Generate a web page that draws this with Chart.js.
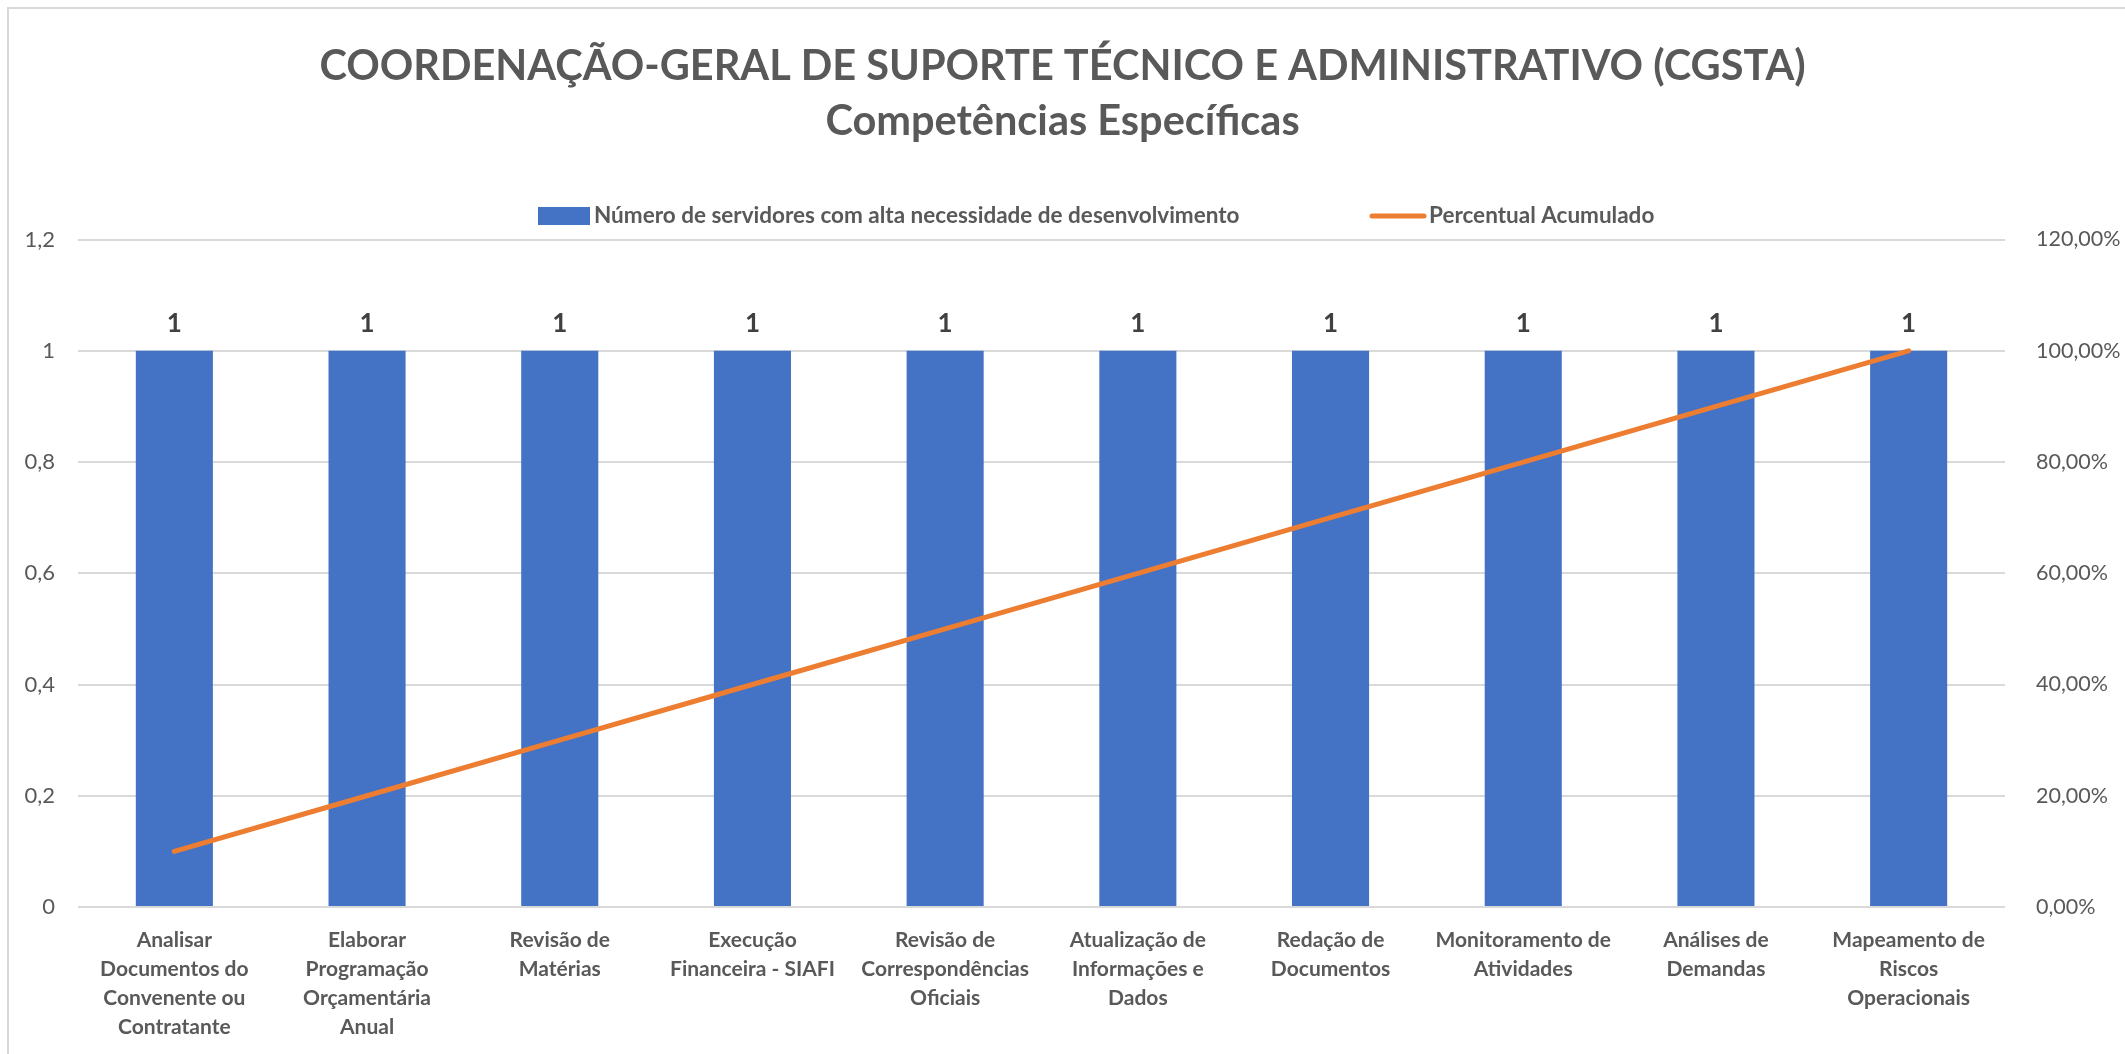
<!DOCTYPE html>
<html>
<head>
<meta charset="utf-8">
<script src="https://cdn.jsdelivr.net/npm/chart.js@4"></script>
<style>
  html, body { margin: 0; padding: 0; background: #fff; overflow: hidden; }
  #wrap { width: 2125px; height: 1054px; position: relative; }
</style>
</head>
<body>
<div id="wrap"><canvas id="cgstaChart"></canvas></div>
<script>
// categories (wrapped the way the labels break in the picture)
const categorias = [
    ['Analisar', 'Documentos do', 'Convenente ou', 'Contratante'],
    ['Elaborar', 'Programação', 'Orçamentária', 'Anual'],
    ['Revisão de', 'Matérias'],
    ['Execução', 'Financeira - SIAFI'],
    ['Revisão de', 'Correspondências', 'Oficiais'],
    ['Atualização de', 'Informações e', 'Dados'],
    ['Redação de', 'Documentos'],
    ['Monitoramento de', 'Atividades'],
    ['Análises de', 'Demandas'],
    ['Mapeamento de', 'Riscos', 'Operacionais']
];
const servidores = [1, 1, 1, 1, 1, 1, 1, 1, 1, 1];
const percentualAcumulado = [0.10, 0.20, 0.30, 0.40, 0.50, 0.60, 0.70, 0.80, 0.90, 1.00];
const tituloLinhas = [
    'COORDENAÇÃO-GERAL DE SUPORTE TÉCNICO E ADMINISTRATIVO (CGSTA)',
    'Competências Específicas'
];
const nomeBarras = 'Número de servidores com alta necessidade de desenvolvimento';
const nomeLinha = 'Percentual Acumulado';

const FONT = 'Lato, "Noto Sans", sans-serif';
const GREY = '#595959';
const BLUE = '#4472C4';
const ORANGE = '#ED7D31';

// light frame around the chart object
const framePlugin = {
    id: 'frame',
    beforeDraw(chart) {
        const ctx = chart.ctx;
        ctx.save();
        ctx.fillStyle = '#fff';
        ctx.fillRect(0, 0, chart.width, chart.height);
        ctx.strokeStyle = '#d9d9d9';
        ctx.lineWidth = 2;
        ctx.strokeRect(8, 8, chart.width + 50, chart.height + 50);
        ctx.restore();
    }
};

// legend drawn by hand so the spacing matches
const legendPlugin = {
    id: 'manualLegend',
    afterDraw(chart) {
        const ctx = chart.ctx;
        const y = 216;
        ctx.save();
        ctx.font = 'bold 22.5px ' + FONT;
        ctx.textBaseline = 'middle';
        ctx.textAlign = 'left';

        ctx.fillStyle = BLUE;
        ctx.fillRect(538, y - 9, 52, 18);
        ctx.fillStyle = GREY;
        ctx.fillText(chart.data.datasets[1].label, 594, y);

        ctx.strokeStyle = ORANGE;
        ctx.lineWidth = 5;
        ctx.lineCap = 'round';
        ctx.beginPath();
        ctx.moveTo(1372, y);
        ctx.lineTo(1424, y);
        ctx.stroke();
        ctx.fillText(chart.data.datasets[0].label, 1429, y);
        ctx.restore();
    }
};

// value labels over the bars
const barLabels = {
    id: 'barLabels',
    afterDatasetsDraw(chart) {
        const ctx = chart.ctx;
        const meta = chart.getDatasetMeta(1);
        ctx.save();
        ctx.font = 'bold 26px ' + FONT;
        ctx.fillStyle = '#404040';
        ctx.textAlign = 'center';
        ctx.textBaseline = 'bottom';
        meta.data.forEach((bar, i) => {
            ctx.fillText(String(chart.data.datasets[1].data[i]), bar.x, bar.y - 14);
        });
        ctx.restore();
    }
};

const fmtVirgula = v => String(Math.round(v * 10) / 10).replace('.', ',');
const fmtPct = v => (v * 100).toFixed(2).replace('.', ',') + '%';

const ctx = document.getElementById('cgstaChart').getContext('2d');
new Chart(ctx, {
    data: {
        labels: categorias,
        datasets: [
            {
                type: 'line',
                label: nomeLinha,
                data: percentualAcumulado,
                yAxisID: 'y1',
                borderColor: ORANGE,
                backgroundColor: ORANGE,
                borderWidth: 5,
                borderCapStyle: 'round',
                pointRadius: 0,
                tension: 0,
                order: 0
            },
            {
                type: 'bar',
                label: nomeBarras,
                data: servidores,
                yAxisID: 'y',
                backgroundColor: BLUE,
                categoryPercentage: 0.4,
                barPercentage: 1,
                order: 1
            }
        ]
    },
    options: {
        responsive: true,
        maintainAspectRatio: false,
        animation: false,
        layout: { padding: 0 },
        plugins: {
            legend: { display: false },
            tooltip: { enabled: false },
            title: {
                display: true,
                text: tituloLinhas,
                color: GREY,
                font: { family: FONT, size: 41.5, weight: 'bold', lineHeight: 1.32 },
                padding: { top: 39, bottom: 91 }
            }
        },
        scales: {
            x: {
                grid: { display: false },
                border: { display: false },
                ticks: {
                    color: GREY,
                    font: { family: FONT, size: 21, weight: 'bold', lineHeight: 1.38 },
                    padding: 11,
                    maxRotation: 0,
                    autoSkip: false
                },
                afterFit(scale) { scale.height = 147; }
            },
            y: {
                position: 'left',
                min: 0,
                max: 1.2,
                grid: { color: '#d9d9d9', lineWidth: 2, drawTicks: false },
                border: { display: false },
                ticks: {
                    stepSize: 0.2,
                    color: GREY,
                    font: { family: FONT, size: 22 },
                    padding: 23,
                    callback: v => fmtVirgula(v)
                },
                afterFit(scale) { scale.width = 78; }
            },
            y1: {
                position: 'right',
                min: 0,
                max: 1.2,
                grid: { display: false },
                border: { display: false },
                ticks: {
                    stepSize: 0.2,
                    color: GREY,
                    font: { family: FONT, size: 21.5 },
                    padding: 23,
                    callback: v => fmtPct(v)
                },
                afterFit(scale) { scale.width = 120; }
            }
        }
    },
    plugins: [framePlugin, legendPlugin, barLabels]
});
</script>
</body>
</html>
